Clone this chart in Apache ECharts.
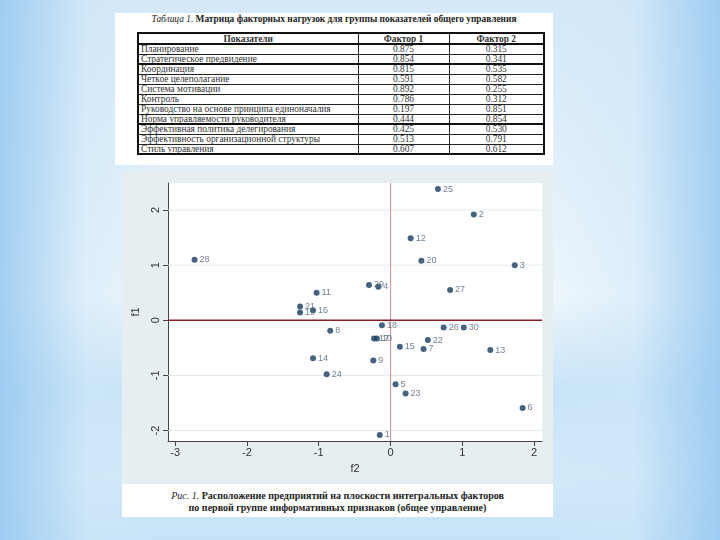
<!DOCTYPE html>
<html>
<head>
<meta charset="utf-8">
<script src="https://cdn.jsdelivr.net/npm/echarts@6/dist/echarts.min.js"></script>
<style>
  html, body { margin:0; padding:0; }
  body {
    width:720px; height:540px; position:relative; overflow:hidden;
    background:
      linear-gradient(to right, rgba(150,200,240,0.85) 0%, rgba(205,230,248,0.45) 12%, rgba(255,255,255,0) 24%, rgba(255,255,255,0) 76%, rgba(205,230,248,0.45) 88%, rgba(150,200,240,0.85) 100%),
      linear-gradient(to bottom, #d4e8f8 0%, #e4f1fb 35%, #eef6fc 55%, #c8e3f7 72%, #d3e9f9 88%, #c6e2f7 100%);
  }
  #tablePanel { position:absolute; left:115px; top:13px; width:438px; height:152px; background:#fff; }
  #tableTitle { position:absolute; left:0; top:1px; width:438px; text-align:center;
    font-family:"Liberation Serif", serif; font-size:9.4px; font-weight:bold; color:#222; white-space:nowrap; }
  #tableTitle i { font-weight:normal; }
  table { position:absolute; left:22px; top:19px; width:406px; border-collapse:collapse; table-layout:fixed;
    font-family:"Liberation Serif", serif; font-size:9.4px; color:#333; border:2px solid #111; }
  td, th { border:1px solid #222; padding:0 2px; line-height:8px; white-space:nowrap; overflow:hidden; }
  thead tr { height:11px; }
  tbody tr { height:10px; }
  th { font-weight:bold; text-align:center; border-bottom:2px solid #111; }
  td.n { text-align:center; }
  tr.thick td { border-top:2px solid #111; }
  #chartPanel { position:absolute; left:122px; top:171px; width:431px; height:313px; background:#e6eef1; }
  #chart { width:431px; height:313px; }
  #caption { position:absolute; left:122px; top:484px; width:431px; height:33px; background:#fff;
    font-family:"Liberation Serif", serif; font-size:10px; color:#222; text-align:center; line-height:12px; }
  #caption div { white-space:nowrap; }
  #caption .l1 { padding-top:6px; }
</style>
</head>
<body>
<div id="tablePanel">
  <div id="tableTitle"><i>Таблица 1.</i> Матрица факторных нагрузок для группы показателей общего управления</div>
  <table id="tbl">
    <colgroup><col style="width:220px"><col style="width:91px"><col style="width:95px"></colgroup>
    <thead><tr><th id="h0"></th><th id="h1"></th><th id="h2"></th></tr></thead>
    <tbody id="tb"></tbody>
  </table>
</div>
<div id="chartPanel"><div id="chart"></div></div>
<div id="caption">
  <div class="l1"><i>Рис. 1.</i> <b>Расположение предприятий на плоскости интегральных факторов</b></div>
  <div><b>по первой группе информативных признаков (общее управление)</b></div>
</div>
<script>
// ---- Table data ----
var tableHeaders = ["Показатели", "Фактор 1", "Фактор 2"];
var indicators = [
  "Планирование",
  "Стратегическое предвидение",
  "Координация",
  "Четкое целеполагание",
  "Система мотивации",
  "Контроль",
  "Руководство на основе принципа единоначалия",
  "Норма управляемости руководителя",
  "Эффективная политика делегирования",
  "Эффективность организационной структуры",
  "Стиль управления"
];
var factor1Loadings = ["0.875", "0.854", "0.815", "0.591", "0.892", "0.786", "0.197", "0.444", "0.425", "0.513", "0.607"];
var factor2Loadings = ["0.315", "0.341", "0.535", "0.582", "0.255", "0.312", "0.851", "0.854", "0.530", "0.791", "0.612"];
var thickRows = [2, 8];

// ---- Scatter data ----
var firmIds = [25, 2, 12, 28, 20, 3, 29, 4, 27, 11, 21, 19, 16, 18, 26, 30, 8, 17, 10, 22, 15, 7, 13, 14, 9, 24, 5, 23, 6, 1];
var f2Values = [0.66, 1.16, 0.28, -2.73, 0.43, 1.73, -0.30, -0.17, 0.83, -1.03, -1.26, -1.26, -1.08, -0.12, 0.74, 1.02, -0.84, -0.23, -0.19, 0.52, 0.13, 0.46, 1.39, -1.08, -0.24, -0.89, 0.07, 0.21, 1.84, -0.15];
var f1Values = [2.38, 1.92, 1.49, 1.10, 1.08, 1.00, 0.64, 0.61, 0.55, 0.50, 0.25, 0.14, 0.18, -0.09, -0.13, -0.13, -0.19, -0.33, -0.33, -0.36, -0.48, -0.52, -0.54, -0.69, -0.73, -0.98, -1.16, -1.33, -1.59, -2.08];
var xTicks = [-3, -2, -1, 0, 1, 2];
var yTicks = [-2, -1, 0, 1, 2];
var yGridValues = [-2, -1, 1, 2];
var xMin = -3.1, xMax = 2.11, yMin = -2.19, yMax = 2.49;

// build table
document.getElementById('h0').textContent = tableHeaders[0];
document.getElementById('h1').textContent = tableHeaders[1];
document.getElementById('h2').textContent = tableHeaders[2];
var tb = document.getElementById('tb');
indicators.forEach(function (name, i) {
  var tr = document.createElement('tr');
  if (thickRows.indexOf(i) >= 0) tr.className = 'thick';
  var a = document.createElement('td'); a.textContent = name;
  var b = document.createElement('td'); b.className = 'n'; b.textContent = factor1Loadings[i];
  var c = document.createElement('td'); c.className = 'n'; c.textContent = factor2Loadings[i];
  tr.appendChild(a); tr.appendChild(b); tr.appendChild(c);
  tb.appendChild(tr);
});

// build chart
var chart = echarts.init(document.getElementById('chart'));
var pts = firmIds.map(function (id, i) { return [f2Values[i], f1Values[i], id]; });
var navy = '#173c62';

function hLine(v, color, width) {
  return { type: 'line', z: 1, silent: true, symbol: 'none', animation: false,
    data: [[xMin, v], [xMax, v]], lineStyle: { color: color, width: width } };
}
function vLine(v, color, width) {
  return { type: 'line', z: 1, silent: true, symbol: 'none', animation: false,
    data: [[v, yMin], [v, yMax]], lineStyle: { color: color, width: width } };
}
var series = yGridValues.map(function (v) { return hLine(v, '#e3ebee', 1); });
series.push(vLine(0, '#d98c96', 1));
series.push(hLine(0, '#8c1c26', 1.5));
series.push({
  type: 'scatter', z: 5, data: pts, symbol: 'circle', symbolSize: 6,
  itemStyle: { color: navy },
  label: {
    show: true, position: 'right', distance: 2,
    formatter: function (p) { return p.value[2]; },
    fontFamily: 'Liberation Sans', fontSize: 9, color: '#4a5f75'
  }
});

chart.setOption({
  animation: false,
  grid: { left: 42, right: 11, top: 12, bottom: 43, show: true, backgroundColor: '#ffffff', borderWidth: 0 },
  xAxis: {
    type: 'value', min: xMin, max: xMax,
    name: 'f2', nameLocation: 'middle', nameGap: 22,
    nameTextStyle: { fontFamily: 'Liberation Sans', fontSize: 11, color: '#333' },
    axisLine: { show: true, onZero: false, lineStyle: { color: '#444', width: 1 } },
    axisTick: { show: true, inside: false, length: 5, lineStyle: { color: '#444' }, customValues: xTicks },
    axisLabel: { customValues: xTicks, margin: 6, fontFamily: 'Liberation Sans', fontSize: 11, color: '#333' },
    splitLine: { show: false }
  },
  yAxis: {
    type: 'value', min: yMin, max: yMax,
    name: 'f1', nameLocation: 'middle', nameGap: 27, nameRotate: 90,
    nameTextStyle: { fontFamily: 'Liberation Sans', fontSize: 11, color: '#333' },
    axisLine: { show: true, onZero: false, lineStyle: { color: '#444', width: 1 } },
    axisTick: { show: true, inside: false, length: 5, lineStyle: { color: '#444' }, customValues: yTicks },
    axisLabel: { customValues: yTicks, rotate: 90, margin: 7, fontFamily: 'Liberation Sans', fontSize: 11, color: '#333' },
    splitLine: { show: false }
  },
  series: series
});
</script>
</body>
</html>
